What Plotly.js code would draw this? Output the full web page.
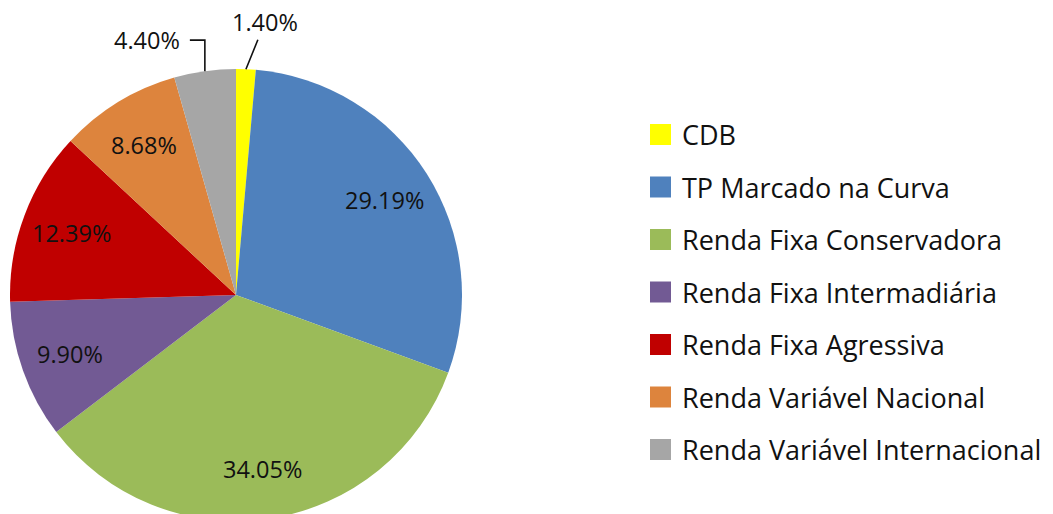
<!DOCTYPE html>
<html><head><meta charset="utf-8">
<script src="https://cdn.plot.ly/plotly-3.0.1.min.js"></script>
<style>html,body{margin:0;padding:0;overflow:hidden;background:#fff;width:1053px;height:514px}</style>
</head><body><div id="chart" style="width:1053px;height:530px"></div>
<script>
const labels = ['CDB', 'TP Marcado na Curva', 'Renda Fixa Conservadora', 'Renda Fixa Intermadiária', 'Renda Fixa Agressiva', 'Renda Variável Nacional', 'Renda Variável Internacional'];
const values = [1.40, 29.19, 34.05, 9.90, 12.39, 8.68, 4.40];
const colors = ['#FFFF00', '#4F81BD', '#9BBB59', '#725A94', '#C00000', '#DD843D', '#A6A6A6'];
const valueText = values.map(v => v.toFixed(2) + '%');

const W = 1053, H = 530, M = {l: 10, r: 0, t: 69, b: 9};
const plotW = W - M.l - M.r, plotH = H - M.t - M.b;
const R = plotH / 2, cx = M.l + R, cy = M.t + R;
const px2x = px => (px - M.l) / plotW;
const px2y = py => 1 - (py - M.t) / plotH;
const total = values.reduce((a, b) => a + b, 0);
let cum = 0;
const mids = values.map(v => { const m = (cum + v / 2) / total * 360; cum += v; return m; });
function pt(deg, rf) { const a = deg * Math.PI / 180; return [cx + R * rf * Math.sin(a), cy - R * rf * Math.cos(a)]; }

const FONT = '"Open Sans", "Noto Sans", sans-serif';
const PCT = 23.5, LEG = 27, TXT = '#111';
const annotations = [], shapes = [];
const outsideStraight = 0, outsideElbow = 6;
values.forEach((v, i) => {
  if (i === outsideStraight) {
    const e = pt(mids[i], 1.0);
    annotations.push({x: px2x(e[0]), y: px2y(e[1]), xref: 'paper', yref: 'paper', text: valueText[i],
      showarrow: true, arrowhead: 0, arrowwidth: 1.6, arrowcolor: TXT, ax: 19, ay: -47, standoff: 0,
      font: {family: FONT, size: PCT, color: TXT}});
  } else if (i === outsideElbow) {
    const e = pt(mids[i], 1.0);
    const ey = e[1] - 31, ex = e[0] - 15;
    shapes.push({type: 'path', xref: 'paper', yref: 'paper',
      path: `M${px2x(e[0])},${px2y(e[1])} L${px2x(e[0])},${px2y(ey)} L${px2x(ex)},${px2y(ey)}`,
      line: {color: TXT, width: 1.6}});
    annotations.push({x: px2x(ex - 8), y: px2y(ey), xref: 'paper', yref: 'paper', text: valueText[i],
      showarrow: false, xanchor: 'right', yanchor: 'middle', font: {family: FONT, size: PCT, color: TXT}});
  } else {
    const p = pt(mids[i], 0.78);
    annotations.push({x: px2x(p[0]), y: px2y(p[1]), xref: 'paper', yref: 'paper', text: valueText[i],
      showarrow: false, xanchor: 'center', yanchor: 'middle', font: {family: FONT, size: PCT, color: TXT}});
  }
});

// custom legend
labels.forEach((lab, i) => {
  const yc = 134.5 + i * 52.5;
  shapes.push({type: 'rect', xref: 'paper', yref: 'paper', x0: px2x(650), x1: px2x(671), y0: px2y(yc - 10.5), y1: px2y(yc + 10.5),
    fillcolor: colors[i], line: {width: 0}});
  annotations.push({x: px2x(680), y: px2y(yc), xref: 'paper', yref: 'paper', text: lab, showarrow: false,
    xanchor: 'left', yanchor: 'middle', font: {family: FONT, size: LEG, color: TXT}});
});

const data = [{
  type: 'pie', labels: labels, values: values, sort: false, direction: 'clockwise', rotation: 0,
  marker: {colors: colors, line: {width: 0}}, textinfo: 'none', hoverinfo: 'label+percent',
  domain: {x: [0, 2 * R / plotW], y: [0, 1]}, showlegend: false
}];
const layout = {width: W, height: H, margin: M, showlegend: false, paper_bgcolor: '#fff', plot_bgcolor: '#fff',
  annotations: annotations, shapes: shapes, font: {family: FONT}};
Plotly.newPlot('chart', data, layout, {displayModeBar: false, staticPlot: true});
</script></body></html>
